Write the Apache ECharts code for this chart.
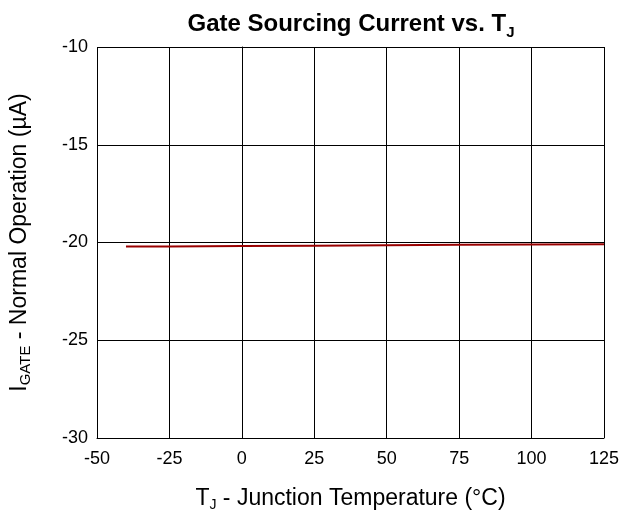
<!DOCTYPE html>
<html><head><meta charset="utf-8">
<script src="https://cdn.jsdelivr.net/npm/echarts@6/dist/echarts.min.js"></script>
<style>html,body{margin:0;padding:0;background:#fff}#c{width:622px;height:517px}</style>
</head><body><div id="c"></div>
<script>
var temps = [-40, -25, 0, 25, 50, 75, 100, 125];
var igate = [-20.21, -20.20, -20.18, -20.16, -20.14, -20.12, -20.10, -20.09];
var xTicks = [-50, -25, 0, 25, 50, 75, 100, 125];
var yTicks = [-30, -25, -20, -15, -10];

var F = '"Liberation Sans", Arial, sans-serif';
var chart = echarts.init(document.getElementById('c'), null, {renderer: 'canvas'});
chart.setOption({
  animation: false,
  title: {
    text: '{t|Gate Sourcing Current vs. T}{s|J}',
    left: 346, top: 4, textAlign: 'center',
    textStyle: {
      rich: {
        t: {fontFamily: F, fontSize: 24, fontWeight: 'bold', color: '#000'},
        s: {fontFamily: F, fontSize: 15, fontWeight: 'bold', color: '#000', padding: [16, 0, 0, 0]}
      }
    }
  },
  grid: {left: 97, right: 18, top: 47, bottom: 79, containLabel: false, outerBoundsMode: 'none'},
  xAxis: {
    type: 'value', min: -50, max: 125, interval: 25,
    name: '{t|T}{s|J}{t| - Junction Temperature (°C)}',
    nameLocation: 'middle', nameGap: 47,
    nameTextStyle: {rich: {
      t: {fontFamily: F, fontSize: 23, color: '#000'},
      s: {fontFamily: F, fontSize: 14, color: '#000', padding: [13, 0, 0, 0]}
    }},
    axisLine: {show: true, lineStyle: {color: '#000', width: 1}},
    axisTick: {show: false},
    axisLabel: {fontFamily: F, fontSize: 18, color: '#000', margin: 12,
      formatter: function(v){ return xTicks.indexOf(v) >= 0 ? String(v) : ''; }},
    splitLine: {show: true, lineStyle: {color: '#000', width: 1}}
  },
  yAxis: {
    type: 'value', min: -30, max: -10, interval: 5,
    name: '{t|I}{s|GATE}{t| - Normal Operation (µA)}',
    nameLocation: 'middle', nameGap: 64, nameRotate: 90,
    nameTextStyle: {rich: {
      t: {fontFamily: F, fontSize: 23, color: '#000'},
      s: {fontFamily: F, fontSize: 15, color: '#000', padding: [12, 0, 0, 0]}
    }},
    axisLine: {show: true, lineStyle: {color: '#000', width: 1}},
    axisTick: {show: false},
    axisLabel: {fontFamily: F, fontSize: 18, color: '#000', margin: 9,
      formatter: function(v){ return yTicks.indexOf(v) >= 0 ? String(v) : ''; }},
    splitLine: {show: true, lineStyle: {color: '#000', width: 1}}
  },
  series: [{
    type: 'line',
    data: temps.map(function(t, i){ return [t, igate[i]]; }),
    showSymbol: false, symbol: 'none',
    lineStyle: {color: '#990000', width: 2},
    z: 5
  }]
});
</script></body></html>
